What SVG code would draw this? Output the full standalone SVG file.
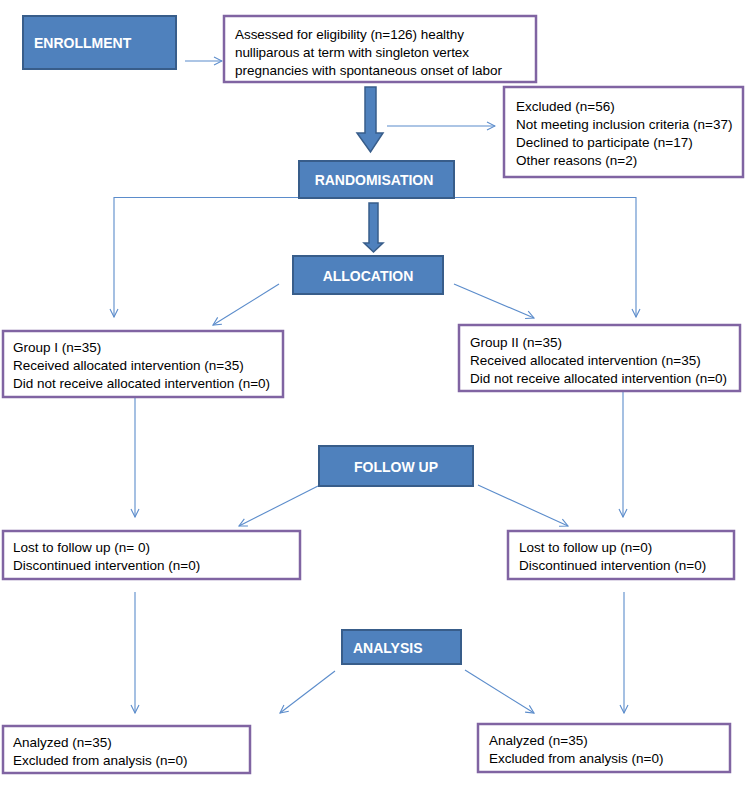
<svg xmlns="http://www.w3.org/2000/svg" width="750" height="810" viewBox="0 0 750 810">
<style>
.stage{fill:#4F81BD;stroke:#385D8A;stroke-width:2}
.stext{font-family:"Liberation Sans",Arial,sans-serif;font-weight:bold;font-size:14px;fill:#ffffff}
.box{fill:#ffffff;stroke:#8064A2;stroke-width:2.5}
.btext{font-family:"Liberation Sans",Arial,sans-serif;font-size:13.5px;fill:#000000}
.conn{fill:none;stroke:#5B8CCB;stroke-width:1.1}
.block{fill:#4F81BD;stroke:#385D8A;stroke-width:1.5}
</style>
<defs>
<marker id="ah" viewBox="0 0 10 10" refX="9" refY="5" markerWidth="10" markerHeight="10" markerUnits="userSpaceOnUse" orient="auto">
<path d="M1,1 L9,5 L1,9" fill="none" stroke="#5B8CCB" stroke-width="1.1"/>
</marker>
</defs>
<rect width="750" height="810" fill="#ffffff"/>

<g id="connectors">
<line class="conn" x1="185" y1="61" x2="222" y2="61" marker-end="url(#ah)"/>
<line class="conn" x1="387" y1="126" x2="495" y2="126" marker-end="url(#ah)"/>
<polyline class="conn" points="299,197.5 114,197.5 114,317" marker-end="url(#ah)"/>
<polyline class="conn" points="454,197.5 636,197.5 636,317" marker-end="url(#ah)"/>
<line class="conn" x1="279" y1="284" x2="213" y2="325" marker-end="url(#ah)"/>
<line class="conn" x1="454" y1="284" x2="534" y2="318" marker-end="url(#ah)"/>
<line class="conn" x1="135" y1="398" x2="135" y2="517" marker-end="url(#ah)"/>
<line class="conn" x1="623" y1="392" x2="623" y2="517" marker-end="url(#ah)"/>
<line class="conn" x1="318" y1="486" x2="239" y2="526" marker-end="url(#ah)"/>
<line class="conn" x1="478" y1="485" x2="568" y2="526" marker-end="url(#ah)"/>
<line class="conn" x1="135" y1="592" x2="135" y2="713" marker-end="url(#ah)"/>
<line class="conn" x1="624" y1="592" x2="624" y2="713" marker-end="url(#ah)"/>
<line class="conn" x1="335" y1="671" x2="280" y2="713" marker-end="url(#ah)"/>
<line class="conn" x1="465" y1="670" x2="534" y2="713" marker-end="url(#ah)"/>
<polygon class="block" points="365,87 376,87 376,133 383,133 370.5,152 357,133 365,133"/>
<polygon class="block" points="369,203 378,203 378,243 383,243 373.5,252 364,243 369,243"/>
</g>

<g id="enrollment">
<rect class="stage" x="23" y="16" width="153" height="53"/>
<text class="stext" x="34" y="48">ENROLLMENT</text>
</g>

<g id="assessed">
<rect class="box" x="224" y="16" width="312" height="66"/>
<text class="btext" x="235" y="39" textLength="229">Assessed for eligibility (n=126) healthy</text>
<text class="btext" x="235" y="57" textLength="234">nulliparous at term with singleton vertex</text>
<text class="btext" x="235" y="75" textLength="267">pregnancies with spontaneous onset of labor</text>
</g>

<g id="excluded">
<rect class="box" x="504" y="87" width="239" height="90"/>
<text class="btext" x="516" y="111">Excluded (n=56)</text>
<text class="btext" x="516" y="129">Not meeting inclusion criteria (n=37)</text>
<text class="btext" x="516" y="147">Declined to participate (n=17)</text>
<text class="btext" x="516" y="165">Other reasons (n=2)</text>
</g>

<g id="randomisation">
<rect class="stage" x="299" y="161" width="155" height="37"/>
<text class="stext" x="374" y="185" text-anchor="middle">RANDOMISATION</text>
</g>

<g id="allocation">
<rect class="stage" x="293" y="256" width="150" height="38"/>
<text class="stext" x="368" y="281" text-anchor="middle">ALLOCATION</text>
</g>

<g id="group1">
<rect class="box" x="3" y="331" width="280" height="66"/>
<text class="btext" x="13" y="352">Group I (n=35)</text>
<text class="btext" x="13" y="370">Received allocated intervention (n=35)</text>
<text class="btext" x="13" y="388">Did not receive allocated intervention (n=0)</text>
</g>

<g id="group2">
<rect class="box" x="459" y="325" width="281" height="66"/>
<text class="btext" x="470" y="347">Group II (n=35)</text>
<text class="btext" x="470" y="365">Received allocated intervention (n=35)</text>
<text class="btext" x="470" y="383">Did not receive allocated intervention (n=0)</text>
</g>

<g id="followup">
<rect class="stage" x="319" y="446" width="154" height="40"/>
<text class="stext" x="396" y="472" text-anchor="middle">FOLLOW UP</text>
</g>

<g id="lost1">
<rect class="box" x="3" y="531" width="297" height="48"/>
<text class="btext" x="13" y="552">Lost to follow up (n= 0)</text>
<text class="btext" x="13" y="570">Discontinued intervention (n=0)</text>
</g>

<g id="lost2">
<rect class="box" x="508" y="531" width="226" height="48"/>
<text class="btext" x="519" y="552">Lost to follow up (n=0)</text>
<text class="btext" x="519" y="570">Discontinued intervention (n=0)</text>
</g>

<g id="analysis">
<rect class="stage" x="342" y="630" width="119" height="34"/>
<text class="stext" x="353" y="653">ANALYSIS</text>
</g>

<g id="analyzed1">
<rect class="box" x="3" y="726" width="247" height="47"/>
<text class="btext" x="13" y="747">Analyzed (n=35)</text>
<text class="btext" x="13" y="765">Excluded from analysis (n=0)</text>
</g>

<g id="analyzed2">
<rect class="box" x="478" y="724" width="252" height="48"/>
<text class="btext" x="489" y="745">Analyzed (n=35)</text>
<text class="btext" x="489" y="763">Excluded from analysis (n=0)</text>
</g>
</svg>
